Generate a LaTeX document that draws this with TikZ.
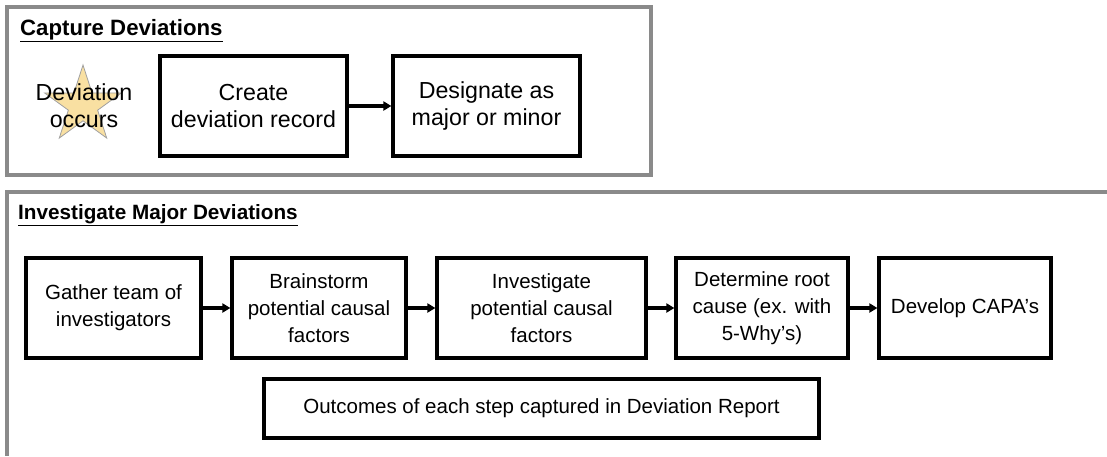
\documentclass[tikz,border=0pt]{standalone}
\usepackage{fontspec}
\setmainfont{Liberation Sans}
\usetikzlibrary{arrows.meta}
\definecolor{framegray}{HTML}{8A8A8A}
\definecolor{staryellow}{HTML}{F9E0A2}
\definecolor{stargray}{HTML}{A0A0A0}
\tikzset{
  frame/.style={draw=framegray, line width=3.2pt},
  stepbox/.style={draw=black, line width=3.2pt, fill=white, align=center,
    inner sep=0pt, anchor=center},
  topfont/.style={font=\fontsize{23.2}{27}\selectfont},
  botfont/.style={font=\fontsize{20.5}{27}\selectfont},
  flow/.style={draw=black, line width=3.2pt,
    -{Triangle[length=8pt,width=9pt]}},
  heading/.style={anchor=base west, inner sep=0pt},
}
\newcommand{\headline}[1]{\underline{#1}}
\begin{document}
\begin{tikzpicture}[x=1pt,y=-1pt]
\useasboundingbox (0,0) rectangle (1107,456);

% section frames
\draw[frame] (7,7) rectangle (651,175);
\draw[frame] (1107,192) -- (7,192) -- (7,456);

% headings
\node[heading, font=\bfseries\fontsize{22.2}{27}\selectfont] (h1) at (20,35) {\headline{Capture Deviations}};
\node[heading, font=\bfseries\fontsize{20.7}{27}\selectfont] (h2) at (18,219) {\headline{Investigate Major Deviations}};

% star marking the triggering event (y axis points down)
\coordinate (sc) at (83,105.4);
\draw[fill=staryellow, draw=stargray, line width=0.8pt]
  (sc) +(-90:40.4) -- +(-54:15.4) -- +(-18:40.4) -- +(18:15.4)
  -- +(54:40.4) -- +(90:15.4) -- +(126:40.4) -- +(162:15.4)
  -- +(198:40.4) -- +(234:15.4) -- cycle;
\node[topfont, align=center, inner sep=0pt] (dev) at (84,106) {Deviation\\occurs};

% capture steps
\node[stepbox, topfont, minimum width=187pt, minimum height=100pt] (create) at (253.5,106) {Create\\deviation record};
\node[stepbox, topfont, minimum width=187pt, minimum height=100pt] (desig) at (486.5,106) {Designate as\\major or minor};
\draw[flow] (create.east) -- (desig.west);

% investigation steps
\node[stepbox, botfont, minimum width=175pt, minimum height=100pt] (gather) at (113.5,308) {Gather team of\\investigators};
\node[stepbox, botfont, minimum width=174pt, minimum height=100pt] (brain) at (319,308) {Brainstorm\\potential causal\\factors};
\node[stepbox, botfont, minimum width=209pt, minimum height=100pt] (invest) at (541.5,308) {Investigate\\potential causal\\factors};
\node[stepbox, botfont, minimum width=172pt, minimum height=100pt] (root) at (762,308) {Determine root\\cause (ex. with\\5-Why’s)};
\node[stepbox, botfont, minimum width=172pt, minimum height=100pt] (capa) at (965,308) {Develop CAPA’s};
\draw[flow] (gather.east) -- (brain.west);
\draw[flow] (brain.east) -- (invest.west);
\draw[flow] (invest.east) -- (root.west);
\draw[flow] (root.east) -- (capa.west);

\node[stepbox, botfont, minimum width=555pt, minimum height=59pt] (outc) at (541.5,408.5) {Outcomes of each step captured in Deviation Report};
\end{tikzpicture}
\end{document}
